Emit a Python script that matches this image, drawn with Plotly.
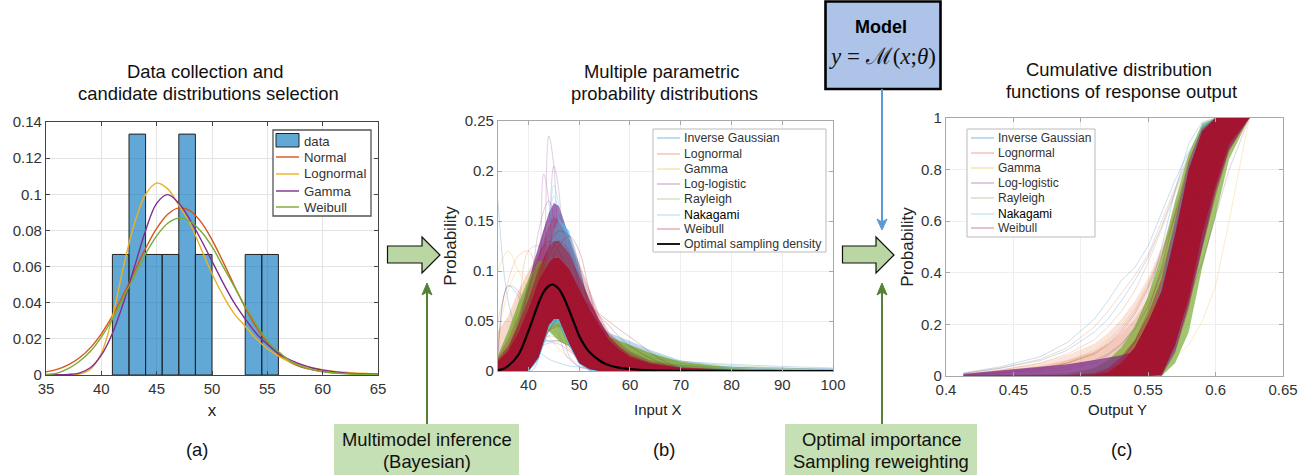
import plotly.graph_objects as go

W, H = 1314, 475
FONT = "Liberation Sans"
INK = "#333333"

# ---------- panel (a) ----------
HIST_X = [41.75, 43.25, 44.75, 46.25, 47.75, 49.25, 53.75, 55.25]
HIST_Y = [0.0667, 0.1333, 0.0667, 0.0667, 0.1333, 0.0667, 0.0667, 0.0667]
A_X = [35, 36, 37, 38, 39, 40, 41, 42, 43, 44, 45, 46, 47, 48, 49, 50, 51, 52, 53, 54, 55, 56, 57, 58, 59, 60, 62, 65]
A_NORMAL = [.0017, .0031, .0056, .0094, .015, .0228, .0327, .0446, .0574, .0701, .0811, .089, .0925, .0909, .0847, .0748, .0626, .0497, .0373, .0265, .0179, .0114, .0072, .0045, .003, .002, .0009, .0004]
A_LOGNORMAL = [0, 0, 0, .0005, .003, .012, .032, .06, .084, .1, .1062, .103, .094, .084, .07, .056, .044, .034, .027, .02, .0145, .0105, .0075, .0055, .004, .003, .0015, .0005]
A_GAMMA = [0, .0001, .0003, .001, .004, .011, .023, .04, .06, .08, .095, .0998, .095, .086, .075, .063, .051, .04, .031, .023, .017, .012, .0085, .006, .004, .0027, .0012, .0004]
A_WEIBULL = [.0003, .001, .0035, .0075, .013, .021, .031, .043, .055, .067, .077, .084, .0868, .085, .0795, .071, .06, .049, .038, .028, .019, .013, .008, .005, .003, .0018, .0007, .0003]
A_XTICKS = [35, 40, 45, 50, 55, 60, 65]
A_YTICKS = [0, .02, .04, .06, .08, .1, .12, .14]
A_YTEXT = ["0", "0.02", "0.04", "0.06", "0.08", "0.1", "0.12", "0.14"]

# ---------- panel (b) ----------
B_BAND_X = [34, 36, 38, 40, 42, 44, 45, 46, 48, 50, 52, 54, 56, 58, 60, 64, 70, 80, 90, 100]
B_WB_UP = [.01, .02, .038, .062, .09, .108, .113, .113, .102, .082, .062, .045, .03, .021, .014, .0075, .003, .001, .0006, .0004]
B_WB_LOW = [0, 0, 0, 0, .014, .046, .052, .052, .028, .008, .002, 0, 0, 0, 0, 0, 0, 0, 0, 0]
B_WB_MID = [.012, .025, .046, .072, .102, .124, .13, .13, .118, .095, .072, .051, .034, .024, .016, .0085, .0035, .0012, .0007, .0005]
B_WB_SPARSE = [.014, .032, .056, .086, .116, .145, .155, .15, .132, .108, .082, .056, .038, .028, .02, .01, .004, .0015, .0007, .0005]
B_LL_UP = [.006, .02, .05, .09, .125, .158, .168, .165, .135, .1, .07, .05, .034, .024, .018, .011, .006, .002, .001, .0005]
B_RY_UP = [.016, .04, .068, .092, .11, .11, .1, .095, .08, .065, .05, .04, .034, .03, .026, .018, .009, .003, .0012, .0006]
B_RY_LOW = [.005, .012, .025, .04, .04, .04, .035, .03, .025, .016, .01, .008, .008, .006, .005, .003, .001, .0004, .0002, .0001]
B_NK_UP = [0, 0, .002, .012, .06, .12, .14, .152, .14, .105, .065, .03, .012, .005, .002, 0, 0, 0, 0, 0]
B_NK_LOW = [0, 0, 0, 0, .012, .042, .047, .047, .025, .007, 0, 0, 0, 0, 0, 0, 0, 0, 0, 0]
B_IG_UP = [.003, .01, .02, .035, .05, .06, .065, .065, .065, .06, .055, .045, .038, .034, .03, .021, .0105, .0042, .002, .0013]
B_IG_LOW = [0, 0, 0, 0, .012, .04, .045, .045, .025, .008, .002, 0, 0, 0, 0, 0, 0, 0, 0, 0]
B_LN_UP = [.04, .055, .08, .1, .118, .13, .13, .12, .1, .08, .06, .046, .036, .03, .026, .018, .009, .003, .0012, .0006]

B_X = [34, 36, 38, 40, 42, 44, 46, 48, 50, 52, 55, 60, 70, 100]
B_IG = [
    [.17, .07, .04, .03, .02, .012, .008, .005, .004, .003, .002, .001, .0005, .0001],
    [.02, .085, .075, .04, .03, .03, .03, .025, .02, .015, .01, .005, .002, .0005],
    [0, 0, .001, .02, .08, .135, .13, .08, .045, .025, .012, .004, .001, .0002],
    [.001, .01, .04, .08, .12, .125, .09, .06, .04, .028, .016, .008, .005, .002],
    [0, .002, .015, .05, .09, .1, .08, .06, .045, .032, .02, .011, .006, .002],
    [0, .003, .01, .025, .04, .05, .055, .05, .042, .035, .027, .018, .01, .003],
]
B_LN = [
    [.05, .09, .115, .12, .09, .055, .035, .022, .014, .009, .005, .002, .0005, .0001],
    [.002, .02, .065, .12, .125, .095, .06, .035, .02, .012, .006, .002, .0005, .0001],
    [0, .001, .006, .02, .032, .035, .033, .028, .022, .017, .012, .007, .003, .0008],
    [0, .0005, .01, .05, .11, .15, .145, .11, .07, .04, .018, .005, .001, .0002],
    [0, .002, .015, .045, .07, .07, .055, .04, .028, .02, .012, .006, .002, .0005],
]
B_GM = [
    [.1, .12, .1, .08, .055, .035, .022, .013, .008, .005, .002, .001, .0002, 0],
    [.03, .08, .1, .09, .07, .05, .035, .022, .014, .009, .005, .002, .0005, .0001],
    [0, .002, .012, .025, .036, .04, .038, .032, .025, .019, .012, .006, .002, .0005],
    [0, 0, .004, .03, .09, .14, .145, .11, .065, .033, .012, .002, .0002, 0],
    [0, .003, .02, .055, .08, .075, .06, .045, .033, .023, .014, .006, .002, .0004],
]
B_LL = [
    [0, .001, .01, .06, .14, .17, .12, .07, .035, .018, .008, .003, .001, .0003],
    [0, .001, .008, .04, .11, .15, .15, .105, .06, .03, .012, .004, .001, .0002],
    [.001, .004, .015, .03, .045, .05, .048, .04, .03, .022, .014, .007, .002, .0005],
    [0, 0, .002, .01, .022, .028, .027, .02, .013, .008, .004, .0015, .0004, .0001],
    [.01, .085, .08, .05, .035, .03, .03, .025, .02, .015, .01, .005, .002, .0005],
]
B_RY = [
    [.01, .035, .06, .085, .095, .09, .07, .05, .032, .02, .01, .003, .0005, 0],
    [0, .01, .03, .05, .06, .058, .05, .04, .03, .022, .014, .006, .002, .0003],
    [0, .002, .015, .032, .043, .048, .046, .04, .034, .028, .022, .016, .009, .001],
    [0, .001, .006, .022, .036, .042, .043, .04, .035, .031, .026, .019, .008, .0007],
    [0, .02, .05, .075, .09, .095, .08, .062, .045, .03, .017, .006, .001, 0],
]
B_NK = [
    [0, 0, 0, .003, .05, .13, .16, .12, .06, .025, .006, .0005, 0, 0],
    [0, 0, 0, .002, .035, .11, .148, .13, .08, .04, .012, .001, 0, 0],
    [0, 0, 0, .001, .015, .04, .05, .042, .025, .012, .003, .0003, 0, 0],
    [0, 0, .002, .02, .06, .09, .095, .075, .05, .03, .015, .008, .004, .0007],
    [0, 0, 0, .002, .02, .035, .04, .035, .022, .012, .004, .001, 0, 0],
]
B_WB = [
    [0, .005, .02, .05, .09, .125, .14, .135, .105, .06, .02, .002, 0, 0],
    [0, .002, .01, .03, .065, .1, .125, .135, .12, .08, .03, .002, 0, 0],
    [0, .002, .006, .014, .025, .04, .055, .065, .07, .065, .053, .034, .003, 0],
    [0, .003, .01, .022, .04, .06, .075, .08, .075, .065, .05, .025, .002, 0],
    [.005, .02, .045, .08, .115, .13, .12, .09, .055, .03, .01, .0015, 0, 0],
    [0, .001, .004, .012, .028, .04, .045, .042, .032, .02, .006, .0003, 0, 0],
    [.002, .012, .03, .055, .085, .115, .13, .12, .085, .045, .012, .001, 0, 0],
]
B_PEAK_X = [38, 40, 41, 42, 43, 44, 45, 46, 47, 48, 50, 52, 55, 60]
B_PEAK_LL = [
    [0, .002, .006, .02, .075, .235, .205, .1, .04, .015, .004, .002, .001, .0003],
    [0, .002, .005, .016, .05, .13, .205, .18, .09, .035, .008, .003, .001, .0003],
    [0, .004, .012, .045, .197, .17, .085, .04, .02, .012, .005, .002, .001, .0003],
]
B_PEAK_NK = [
    [0, 0, .002, .012, .05, .13, .186, .165, .1, .05, .012, .003, .0005, 0],
    [0, 0, .002, .014, .06, .14, .175, .15, .09, .04, .01, .002, .0004, 0],
]
B_OPT_X = [34, 35, 36, 38, 40, 42, 43, 44, 44.7, 46, 47, 48, 49, 50, 51, 52, 54, 55, 56, 58, 60, 64, 70, 80, 100]
B_OPT_Y = [.0008, .002, .005, .016, .04, .068, .079, .085, .0865, .082, .073, .061, .048, .035, .026, .019, .0105, .0075, .0055, .0032, .002, .0007, .0002, 0, 0]
B_XTICKS = [40, 50, 60, 70, 80, 90, 100]
B_YTICKS = [0, .05, .1, .15, .2, .25]
B_YTEXT = ["0", "0.05", "0.1", "0.15", "0.2", "0.25"]

# ---------- panel (c) ----------
C_X = [.413, .44, .47, .49, .51, .52, .53, .54, .55, .56, .57, .58, .59, .6, .61, .625]
C_WB_UP = [0, 0, .001, .002, .006, .015, .05, .11, .21, .33, .55, .8, .95, 1, 1, 1]
C_WB_LOW = [0, 0, 0, 0, 0, 0, 0, 0, 0, .005, .12, .3, .55, .74, .9, 1]
C_WB_SPARSE_UP = [0, 0, .001, .003, .012, .03, .075, .14, .24, .38, .6, .83, .96, 1, 1, 1]
C_WB_SPARSE_LOW = [0, 0, 0, 0, 0, 0, 0, 0, 0, 0, .09, .26, .49, .7, .87, 1]
C_LL_UP = [.008, .021, .034, .046, .062, .07, .08, .095, .13, .2, .4, .7, .9, 1, 1, 1]
C_RY_UP = [0, 0, .001, .007, .032, .06, .11, .19, .31, .47, .68, .86, .98, 1, 1, 1]
C_RY_LOW = [0, 0, 0, 0, 0, 0, 0, 0, 0, 0, .05, .17, .42, .62, .84, 1]
C_LN_UP = [.01, .026, .05, .08, .125, .165, .22, .29, .38, .5, .66, .82, .93, 1, 1, 1]
C_LN_MID = [.008, .02, .04, .062, .095, .125, .165, .22, .3, .42, .58, .76, .9, 1, 1, 1]
C_LOW = [0, 0, 0, 0, 0, 0, 0, 0, 0, .005, .1, .28, .5, .72, .88, 1]
C_NK_UP = [0, 0, 0, 0, .005, .012, .03, .08, .18, .36, .6, .82, .97, 1, 1, 1]
C_NK_LOW = [0, 0, 0, 0, 0, 0, 0, 0, 0, 0, .1, .3, .6, .8, .95, 1]

C_IG = [
    [.012, .035, .075, .13, .22, .29, .37, .42, .505, .63, .76, .87, .95, 1, 1, 1],
    [.01, .03, .06, .1, .17, .22, .29, .37, .46, .58, .72, .85, .94, .995, 1, 1],
    [.002, .008, .015, .025, .05, .08, .12, .19, .3, .5, .72, .9, .985, 1, 1, 1],
]
C_LN = [
    [.01, .03, .065, .11, .19, .25, .32, .39, .47, .6, .73, .86, .95, 1, 1, 1],
    [.008, .022, .05, .085, .14, .19, .25, .33, .44, .57, .71, .84, .94, .99, 1, 1],
    [.004, .012, .025, .05, .09, .13, .18, .25, .35, .48, .63, .8, .92, .98, 1, 1],
    [0, .001, .002, .005, .01, .018, .03, .05, .08, .12, .2, .32, .5, .7, .9, 1],
]
C_GM = [
    [0, 0, .001, .002, .004, .006, .01, .016, .025, .04, .07, .12, .21, .35, .6, 1],
    [.004, .012, .03, .055, .1, .14, .19, .26, .36, .48, .62, .78, .9, .97, 1, 1],
    [0, .001, .003, .006, .012, .02, .035, .06, .1, .17, .28, .43, .63, .82, .95, 1],
]
C_LL = [
    [.006, .018, .03, .05, .085, .12, .17, .24, .34, .47, .62, .78, .9, .98, 1, 1],
    [.004, .012, .022, .035, .06, .085, .125, .18, .27, .4, .56, .74, .88, .97, 1, 1],
    [.001, .003, .006, .01, .018, .028, .04, .06, .09, .13, .19, .3, .44, .62, .8, 1],
]
C_RY = [
    [0, 0, .001, .003, .02, .04, .075, .13, .23, .4, .62, .82, .95, 1, 1, 1],
    [0, 0, 0, .001, .006, .015, .03, .06, .12, .23, .42, .65, .86, .98, 1, 1],
    [0, 0, 0, 0, .002, .005, .012, .03, .07, .16, .32, .55, .78, .94, 1, 1],
]
C_NK = [
    [0, 0, 0, .001, .004, .01, .02, .045, .1, .24, .52, .82, .97, 1, 1, 1],
    [0, 0, 0, 0, .001, .003, .008, .02, .06, .17, .42, .74, .94, 1, 1, 1],
    [0, 0, 0, 0, 0, .001, .003, .008, .025, .08, .24, .52, .8, .96, 1, 1],
]
C_WB = [
    [0, 0, .001, .002, .008, .02, .055, .13, .25, .42, .63, .83, .96, 1, 1, 1],
    [0, 0, 0, .001, .003, .008, .02, .05, .12, .26, .48, .72, .9, .99, 1, 1],
    [0, 0, 0, 0, 0, .001, .003, .012, .04, .11, .28, .55, .8, .95, 1, 1],
    [0, 0, 0, 0, .001, .003, .01, .03, .08, .2, .4, .62, .82, .94, .99, 1],
]
C_XTICKS = [.4, .45, .5, .55, .6, .65]
C_XTEXT = ["0.4", "0.45", "0.5", "0.55", "0.6", "0.65"]
C_YTICKS = [0, .2, .4, .6, .8, 1]
C_YTEXT = ["0", "0.2", "0.4", "0.6", "0.8", "1"]

FAMILIES = ["Inverse Gaussian", "Lognormal", "Gamma", "Log-logistic", "Rayleigh", "Nakagami", "Weibull"]
RGB = {"Inverse Gaussian": "0,114,189", "Lognormal": "217,83,25", "Gamma": "237,177,32",
       "Log-logistic": "126,47,142", "Rayleigh": "119,172,48", "Nakagami": "77,190,238", "Weibull": "162,20,47"}
ALPHA = {"Inverse Gaussian": .32, "Lognormal": .32, "Gamma": .36, "Log-logistic": .34, "Rayleigh": .4, "Nakagami": .4, "Weibull": .38}

fig = go.Figure()


def band(x, up, low, fam, op, xa, ya):
    fig.add_trace(go.Scatter(x=list(x) + list(x)[::-1], y=list(up) + list(low)[::-1], xaxis=xa, yaxis=ya,
                             mode="lines", line=dict(width=0), fill="toself",
                             fillcolor=f"rgba({RGB[fam]},{op})", showlegend=False, hoverinfo="skip"))


def curves(x, rows, fam, xa, ya, shape, width=.7):
    for r in rows:
        fig.add_trace(go.Scatter(x=x, y=r, xaxis=xa, yaxis=ya, mode="lines", name=fam,
                                 line=dict(color=f"rgba({RGB[fam]},{ALPHA[fam]})", width=width, shape=shape),
                                 showlegend=False, hoverinfo="skip"))


# panel a
fig.add_trace(go.Bar(x=HIST_X, y=HIST_Y, width=1.5, name="data", xaxis="x", yaxis="y", showlegend=False,
                     marker=dict(color="rgba(0,114,189,0.62)", line=dict(color="#222222", width=1))))
for nm, ys, col in [("Normal", A_NORMAL, "#D95319"), ("Lognormal", A_LOGNORMAL, "#EDB120"),
                    ("Gamma", A_GAMMA, "#7E2F8E"), ("Weibull", A_WEIBULL, "#77AC30")]:
    fig.add_trace(go.Scatter(x=A_X, y=ys, xaxis="x", yaxis="y", mode="lines", name=nm, showlegend=False,
                             line=dict(color=col, width=1.4, shape="spline")))

# panel b
band(B_BAND_X, B_IG_UP, B_IG_LOW, "Inverse Gaussian", .28, "x2", "y2")
curves(B_X, B_IG, "Inverse Gaussian", "x2", "y2", "spline")
band(B_BAND_X, B_LN_UP, B_IG_LOW, "Lognormal", .22, "x2", "y2")
curves(B_X, B_LN, "Lognormal", "x2", "y2", "spline")
curves(B_X, B_GM, "Gamma", "x2", "y2", "spline")
band(B_BAND_X, B_LL_UP, B_WB_LOW, "Log-logistic", .7, "x2", "y2")
curves(B_X, B_LL, "Log-logistic", "x2", "y2", "spline")
curves(B_PEAK_X, B_PEAK_LL, "Log-logistic", "x2", "y2", "spline")
band(B_BAND_X, B_RY_UP, B_RY_LOW, "Rayleigh", .75, "x2", "y2")
curves(B_X, B_RY, "Rayleigh", "x2", "y2", "spline")
band(B_BAND_X, B_NK_UP, B_NK_LOW, "Nakagami", .72, "x2", "y2")
curves(B_X, B_NK, "Nakagami", "x2", "y2", "spline")
curves(B_PEAK_X, B_PEAK_NK, "Nakagami", "x2", "y2", "spline")
band(B_BAND_X, B_WB_SPARSE, B_WB_LOW, "Weibull", .25, "x2", "y2")
band(B_BAND_X, B_WB_MID, B_WB_LOW, "Weibull", .55, "x2", "y2")
band(B_BAND_X, B_WB_UP, B_WB_LOW, "Weibull", 1, "x2", "y2")
curves(B_X, B_WB, "Weibull", "x2", "y2", "spline")
fig.add_trace(go.Scatter(x=B_OPT_X, y=B_OPT_Y, xaxis="x2", yaxis="y2", mode="lines", name="Optimal sampling density",
                         showlegend=False, line=dict(color="#000000", width=2.2, shape="spline")))

# panel c
band(C_X, C_LN_UP, C_LOW, "Lognormal", .16, "x3", "y3")
band(C_X, C_LN_MID, C_LOW, "Lognormal", .18, "x3", "y3")
curves(C_X, C_IG, "Inverse Gaussian", "x3", "y3", "linear")
curves(C_X, C_LN, "Lognormal", "x3", "y3", "linear")
curves(C_X, C_GM, "Gamma", "x3", "y3", "linear")
band(C_X, C_RY_UP, C_RY_LOW, "Rayleigh", .7, "x3", "y3")
curves(C_X, C_RY, "Rayleigh", "x3", "y3", "linear")
band(C_X, C_LL_UP, C_LOW, "Log-logistic", .75, "x3", "y3")
curves(C_X, C_LL, "Log-logistic", "x3", "y3", "linear")
band(C_X, C_NK_UP, C_NK_LOW, "Nakagami", .7, "x3", "y3")
curves(C_X, C_NK, "Nakagami", "x3", "y3", "linear")
band(C_X, C_WB_SPARSE_UP, C_WB_SPARSE_LOW, "Weibull", .45, "x3", "y3")
band(C_X, C_WB_UP, C_WB_LOW, "Weibull", 1, "x3", "y3")
curves(C_X, C_WB, "Weibull", "x3", "y3", "linear")


def px(x):
    return x / W


def py(y):
    return 1 - y / H


shapes, notes = [], []


def text(x, y, s, size, color="#111111", anchor="center", **kw):
    notes.append(dict(x=px(x), y=py(y), xref="paper", yref="paper", text=s, showarrow=False, xanchor=anchor,
                      yanchor="middle", font=dict(family=kw.pop("family", FONT), size=size, color=color), **kw))


def rect(x0, y0, x1, y1, fill, line="rgba(0,0,0,0)", w=1):
    shapes.append(dict(type="rect", xref="paper", yref="paper", x0=px(x0), x1=px(x1), y0=py(y0), y1=py(y1),
                       fillcolor=fill, line=dict(color=line, width=w)))


def seg(x0, y0, x1, y1, col, w):
    shapes.append(dict(type="line", xref="paper", yref="paper", x0=px(x0), x1=px(x1), y0=py(y0), y1=py(y1),
                       line=dict(color=col, width=w)))


def poly(pts, fill, line="rgba(0,0,0,0)", w=1):
    d = "M" + " L".join(f"{px(a):.5f},{py(b):.5f}" for a, b in pts) + " Z"
    shapes.append(dict(type="path", xref="paper", yref="paper", path=d, fillcolor=fill, line=dict(color=line, width=w)))


# titles
text(205, 72, "Data collection and", 18.4)
text(208, 94, "candidate distributions selection", 18.4)
text(661, 72, "Multiple parametric", 18.4)
text(664, 94, "probability distributions", 18.4)
text(1119, 69, "Cumulative distribution", 18.4)
text(1121, 91, "functions of response output", 18.4)

# panel letters
text(197, 449, "(a)", 18.4)
text(664, 449, "(b)", 18.4)
text(1121, 449, "(c)", 18.4)

# axis labels placed off-centre as in the picture
text(658, 409, "Input X", 15, "#222222")
text(1117, 409, "Output Y", 15, "#222222")

# legend a
rect(273, 130, 371, 216, "white", "#555555", 1.3)
rect(276, 133.5, 299, 147, "rgba(0,114,189,0.62)", "#222222", 1)
text(302, 141, "data", 13.2, INK, "left")
for yy, nm, col in [(157, "Normal", "#D95319"), (174, "Lognormal", "#EDB120"), (191, "Gamma", "#7E2F8E"), (207, "Weibull", "#77AC30")]:
    seg(276, yy, 299, yy, col, 1.4)
    text(302, yy, nm, 13.2, INK, "left")

# legend b
rect(653, 129, 826, 252, "white", "#BBBBBB", 1)
for yy, nm in zip([138, 154, 169, 184, 199, 215, 229], FAMILIES):
    seg(657, yy, 680, yy, f"rgba({RGB[nm]},0.5)", 1)
    text(682, yy, nm, 12.3, "#000000" if nm == "Nakagami" else INK, "left")
seg(657, 244, 680, 244, "#000000", 1.8)
text(682, 244, "Optimal sampling density", 12.3, INK, "left")

# legend c
rect(967, 129, 1095, 237, "white", "#BBBBBB", 1)
for yy, nm in zip([138, 153, 168, 183, 198, 214, 228], FAMILIES):
    seg(971, yy, 994, yy, f"rgba({RGB[nm]},0.5)", 1)
    text(996, yy, nm, 12, "#000000" if nm == "Nakagami" else INK, "left")

# model box
rect(825.5, 1.5, 940.5, 89, "#AEC3E8", "#000000", 2.6)
text(881, 27, "<b>Model</b>", 18, "#000000")
text(882, 56, "<i>y</i> = ℳ(<i>x</i>;<i>θ</i>)", 23, "#111111", family="Liberation Serif, DejaVu Serif")

# thin arrows
seg(882, 89, 882, 224, "#5B9BD5", 2)
poly([(882, 230), (887, 219), (882, 222), (877, 219)], "#5B9BD5", "#5B9BD5", 1)
for xx in (427, 882):
    seg(xx, 424, xx, 290, "#548235", 2)
    poly([(xx, 283), (xx + 5, 295), (xx, 292), (xx - 5, 295)], "#548235", "#548235", 1)

# block arrows
for x0, xm, x1 in [(387.5, 422, 440), (842.5, 876, 894)]:
    poly([(x0, 246), (xm, 246), (xm, 237), (x1, 255), (xm, 273), (xm, 263), (x0, 263)], "#BAD6A2", "#111111", 1.2)

# green label boxes
rect(334, 424, 519, 475, "#C5E0B4")
rect(785, 424, 977, 475, "#C5E0B4")
text(427, 439, "Multimodel inference", 18.4, "#111111")
text(427, 461, "(Bayesian)", 18.4, "#111111")
text(881, 439, "Optimal importance", 18.4, "#111111")
text(881, 461, "Sampling reweighting", 18.4, "#111111")


def axis(dom, rng, vals, ttext, line, grid, anchor, title=None, standoff=None, tsize=15):
    d = dict(domain=dom, range=rng, tickmode="array", tickvals=vals, ticktext=ttext, anchor=anchor, showline=True,
             linecolor=line, linewidth=1.2, mirror="ticks", ticks="inside", ticklen=4, tickcolor=line, tickwidth=1,
             showgrid=True, gridcolor=grid, gridwidth=1, zeroline=False, layer="above traces", automargin=False,
             tickfont=dict(family=FONT, size=15, color=INK))
    if title:
        d["title"] = dict(text=title, font=dict(family=FONT, size=tsize, color="#222222"), standoff=standoff)
    return d


fig.update_layout(
    width=W, height=H, autosize=False, margin=dict(l=0, r=0, t=0, b=0, pad=0, autoexpand=False),
    paper_bgcolor="white", plot_bgcolor="white",
    showlegend=False, barmode="overlay", shapes=shapes, annotations=notes, font=dict(family=FONT, color=INK),
    xaxis=axis([px(46), px(378)], [35, 65], A_XTICKS, [str(v) for v in A_XTICKS], "#444444", "#E4E4E4", "y", "x", 8, 17),
    yaxis=axis([py(375), py(122)], [0, .14], A_YTICKS, A_YTEXT, "#444444", "#E4E4E4", "x"),
    xaxis2=axis([px(498), px(833)], [34, 100], B_XTICKS, [str(v) for v in B_XTICKS], "#A8A8A8", "#EEEEEE", "y2"),
    yaxis2=axis([py(371), py(121)], [0, .25], B_YTICKS, B_YTEXT, "#A8A8A8", "#EEEEEE", "x2", "Probability", 3, 17),
    xaxis3=axis([px(946), px(1283)], [.4, .65], C_XTICKS, C_XTEXT, "#A8A8A8", "#EEEEEE", "y3"),
    yaxis3=axis([py(376), py(118)], [0, 1], C_YTICKS, C_YTEXT, "#A8A8A8", "#EEEEEE", "x3", "Probability", 3, 17),
)

fig.write_html("out.html", config=dict(displayModeBar=False),
               post_script="document.body.style.margin='0';document.documentElement.style.overflow='hidden';")
